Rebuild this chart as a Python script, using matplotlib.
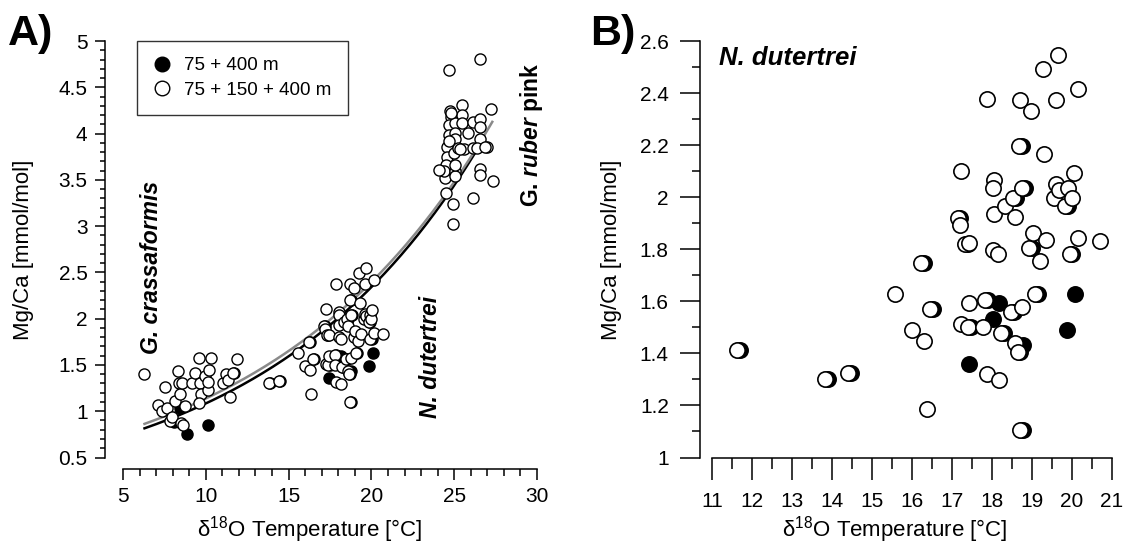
import numpy as np
import matplotlib
matplotlib.use("Agg")
import matplotlib.pyplot as plt
from matplotlib.ticker import MultipleLocator, FuncFormatter
from matplotlib.lines import Line2D

# ---------------- data ----------------
# G. crassaformis (panel A only)
crass_open_T = [6.25, 7.12, 7.34, 7.55, 7.66, 7.81, 7.98, 8.16, 8.31, 8.37, 8.42, 8.48,
                8.63, 8.74, 8.59, 9.17, 9.33, 9.61, 9.67, 9.71, 9.61, 9.93, 10.15, 10.19,
                10.32, 10.15, 11.06, 11.23, 11.34, 11.44, 11.88]
crass_open_Mg = [1.40, 1.07, 1.00, 1.26, 1.04, 0.89, 0.94, 1.11, 1.43, 1.30, 1.19, 0.87,
                 0.85, 1.06, 1.30, 1.30, 1.41, 1.57, 1.30, 1.19, 1.09, 1.38, 1.23, 1.45,
                 1.57, 1.32, 1.30, 1.40, 1.34, 1.15, 1.56]
crass_fill_T = [8.85, 10.13, 8.45, 8.10]
crass_fill_Mg = [0.756, 0.85, 1.03, 0.88]

# N. dutertrei (panels A and B)
dut_open_T = [11.62, 13.82, 14.41, 15.57, 15.99, 16.30, 16.37, 16.23, 16.45, 17.23,
              17.14, 17.21, 17.32, 17.43, 17.23, 17.41, 17.43, 17.88, 17.82, 17.78,
              17.88, 18.04, 18.03, 18.06, 18.03, 18.16, 18.22, 18.18, 18.33, 18.53,
              18.57, 18.48, 18.57, 18.64, 18.68, 18.70, 18.75, 18.75, 18.70, 18.97,
              18.93, 19.03, 19.19, 19.08, 19.28, 19.31, 19.35, 19.65, 19.61, 19.54,
              19.61, 19.68, 19.83, 19.90, 20.00, 20.06, 19.94, 20.16, 20.16, 20.69]
dut_open_Mg = [1.415, 1.300, 1.325, 1.629, 1.491, 1.446, 1.185, 1.748, 1.569, 2.102,
               1.921, 1.894, 1.821, 1.825, 1.513, 1.500, 1.593, 2.376, 1.606, 1.500,
               1.319, 2.068, 2.035, 1.935, 1.797, 1.781, 1.479, 1.299, 1.968, 1.997,
               1.925, 1.560, 1.439, 1.406, 2.198, 2.372, 2.035, 1.580, 1.104, 2.332,
               1.805, 1.864, 1.754, 1.627, 2.493, 2.165, 1.837, 2.546, 2.372, 1.997,
               2.052, 2.028, 1.968, 2.035, 1.997, 2.093, 1.781, 2.417, 1.843, 1.831]
dut_fill_T = [11.69, 13.89, 14.48, 16.30, 16.52, 17.21, 17.39, 17.48, 17.43, 17.89,
              18.18, 18.03, 18.29, 18.60, 18.55, 18.71, 18.77, 18.75, 18.82, 18.77,
              19.00, 19.15, 19.90, 20.01, 19.88, 20.07]
dut_fill_Mg = [1.415, 1.300, 1.325, 1.748, 1.569, 1.921, 1.821, 1.500, 1.359, 1.606,
               1.593, 1.533, 1.479, 1.997, 1.560, 1.406, 1.432, 2.198, 2.035, 1.104,
               1.805, 1.627, 1.968, 1.781, 1.489, 1.629]

# G. ruber pink (panel A only)
ruber_open_T = [24.68, 26.58, 27.23, 25.46, 24.74, 24.81, 24.68, 24.68, 24.59, 24.59,
                24.53, 24.46, 24.38, 24.10, 24.49, 24.92, 24.92, 25.03, 25.03, 25.07,
                24.96, 25.03, 25.07, 25.50, 25.50, 25.61, 25.83, 26.15, 26.15, 26.58,
                26.58, 26.54, 27.01, 26.58, 26.54, 27.34, 26.15, 25.07, 24.80, 25.20,
                25.35, 26.40, 26.85, 24.70]
ruber_open_Mg = [4.69, 4.81, 4.27, 4.31, 4.25, 4.18, 4.09, 3.99, 3.86, 3.75,
                 3.66, 3.52, 3.60, 3.61, 3.36, 3.24, 3.02, 4.11, 4.01, 3.94,
                 3.79, 3.60, 3.54, 4.20, 4.11, 3.83, 4.01, 3.84, 4.13, 4.16,
                 4.07, 3.94, 3.86, 3.62, 3.55, 3.49, 3.30, 3.66, 4.22, 3.85,
                 3.83, 3.85, 3.86, 3.92]

# exponential calibration curves Mg/Ca = a * exp(b * T)
fit_black_coef = [0.502, 0.077]
fit_black_range = [6.3, 26.6]
fit_gray_coef = [0.54, 0.0745]
fit_gray_range = [6.3, 27.3]

legend_labels = ["75 + 400 m", "75 + 150 + 400 m"]
xlabel_text = "δ$^{18}$O Temperature [°C]"
ylabel_text = "Mg/Ca [mmol/mol]"

# ---------------- style ----------------
plt.rcParams['font.family'] = ['Liberation Sans', 'DejaVu Sans']
plt.rcParams['mathtext.fontset'] = 'custom'
plt.rcParams['mathtext.rm'] = 'Liberation Sans'
plt.rcParams['mathtext.it'] = 'Liberation Sans:italic'
plt.rcParams['mathtext.bf'] = 'Liberation Sans:bold'
try:
    plt.rcParams['mathtext.bfit'] = 'Liberation Sans:italic:bold'
except KeyError:
    pass

fig = plt.figure(figsize=(11.45, 5.44), dpi=100)
axA = fig.add_axes([0.1074, 0.1590, 0.3616, 0.7654])
axB = fig.add_axes([0.6218, 0.1590, 0.3493, 0.7654])

fmt = FuncFormatter(lambda v, p: f"{v:g}")


def style_axis(ax, left_off, bot_off, ymaj, ymin_, xmaj, xmin_,
               ylen, yminlen, xlen, xminlen, ypad, xpad):
    for s in ['top', 'right']:
        ax.spines[s].set_visible(False)
    ax.spines['left'].set_position(('outward', left_off))
    ax.spines['bottom'].set_position(('outward', bot_off))
    for s in ['left', 'bottom']:
        ax.spines[s].set_linewidth(1.1)
    ax.yaxis.set_major_locator(MultipleLocator(ymaj))
    ax.yaxis.set_minor_locator(MultipleLocator(ymin_))
    ax.xaxis.set_major_locator(MultipleLocator(xmaj))
    ax.xaxis.set_minor_locator(MultipleLocator(xmin_))
    ax.xaxis.set_major_formatter(fmt)
    ax.yaxis.set_major_formatter(fmt)
    ax.tick_params(axis='y', which='major', direction='out', length=ylen, width=1.1,
                   labelsize=15, pad=ypad)
    ax.tick_params(axis='y', which='minor', direction='out', length=yminlen, width=1.1)
    ax.tick_params(axis='x', which='major', direction='out', length=xlen, width=1.1,
                   labelsize=15, pad=xpad)
    ax.tick_params(axis='x', which='minor', direction='out', length=xminlen, width=1.1)


# ---------------- panel A ----------------
axA.set_xlim(5, 30)
axA.set_ylim(0.5, 5)
style_axis(axA, 13, 8, 0.5, 0.1, 5, 1, 7.5, 3.8, 8, 5, 5, 5)

Tb = np.linspace(fit_black_range[0], fit_black_range[1], 200)
Tg = np.linspace(fit_gray_range[0], fit_gray_range[1], 200)
axA.plot(Tb, fit_black_coef[0] * np.exp(fit_black_coef[1] * Tb), color='black', lw=1.8, zorder=2)
axA.plot(Tg, fit_gray_coef[0] * np.exp(fit_gray_coef[1] * Tg), color='#8a8a8a', lw=1.8, zorder=2)

msA = 8.0
axA.plot(crass_fill_T + dut_fill_T, crass_fill_Mg + dut_fill_Mg, 'o', ls='none', ms=msA,
         mfc='black', mec='black', mew=1.0, zorder=3)
axA.plot(crass_open_T + dut_open_T + ruber_open_T, crass_open_Mg + dut_open_Mg + ruber_open_Mg,
         'o', ls='none', ms=msA, mfc='white', mec='black', mew=1.0, zorder=4)

axA.set_xlabel(xlabel_text, fontsize=16)
axA.set_ylabel(ylabel_text, fontsize=16)
axA.xaxis.set_label_coords(0.45, -0.135)
axA.yaxis.set_label_coords(-0.215, 0.5)

axA.text(6.73, 2.55, "G. crassaformis", rotation=90, ha='center', va='center',
         fontsize=16.5, fontweight='bold', fontstyle='italic')
axA.text(23.56, 1.585, "N. dutertrei", rotation=90, ha='center', va='center',
         fontsize=16.5, fontweight='bold', fontstyle='italic')
axA.text(29.66, 3.99, r"G. $\mathbfit{ruber}$ pink", rotation=90, ha='center', va='center',
         fontsize=16.5, fontweight='bold', clip_on=False)

handles = [Line2D([], [], marker='o', ls='none', ms=10.5, mfc='black', mec='black', mew=1.0),
           Line2D([], [], marker='o', ls='none', ms=10.5, mfc='white', mec='black', mew=1.0)]
leg = axA.legend(handles, legend_labels, loc='upper left', bbox_to_anchor=(0.034, 1.0),
                 fontsize=13.5, frameon=True, fancybox=False, edgecolor='black',
                 handlelength=1.0, handletextpad=0.67, borderpad=0.85, labelspacing=0.4,
                 borderaxespad=0.0)
leg.get_frame().set_linewidth(1.0)

# ---------------- panel B ----------------
axB.set_xlim(11, 21)
axB.set_ylim(1, 2.6)
style_axis(axB, 8.6, 0, 0.2, 0.1, 1, 0.5, 14.5, 5.5, 15.5, 8, 8, 9)

msB = 11.0
axB.plot(dut_fill_T, dut_fill_Mg, 'o', ls='none', ms=msB, mfc='black', mec='black',
         mew=1.2, zorder=3)
axB.plot(dut_open_T, dut_open_Mg, 'o', ls='none', ms=msB, mfc='white', mec='black',
         mew=1.2, zorder=4)

axB.set_xlabel(xlabel_text, fontsize=16)
axB.set_ylabel(ylabel_text, fontsize=16)
axB.xaxis.set_label_coords(0.458, -0.135)
axB.yaxis.set_label_coords(-0.225, 0.5)
axB.text(11.18, 2.51, "N. dutertrei", ha='left', va='baseline', fontsize=18.5,
         fontweight='bold', fontstyle='italic')

# panel letters
fig.text(8 / 1145, 1 - 45 / 544, "A)", fontsize=31, fontweight='bold', ha='left', va='baseline')
fig.text(590 / 1145, 1 - 45 / 544, "B)", fontsize=31, fontweight='bold', ha='left', va='baseline')

fig.savefig("out.png", dpi=100)
